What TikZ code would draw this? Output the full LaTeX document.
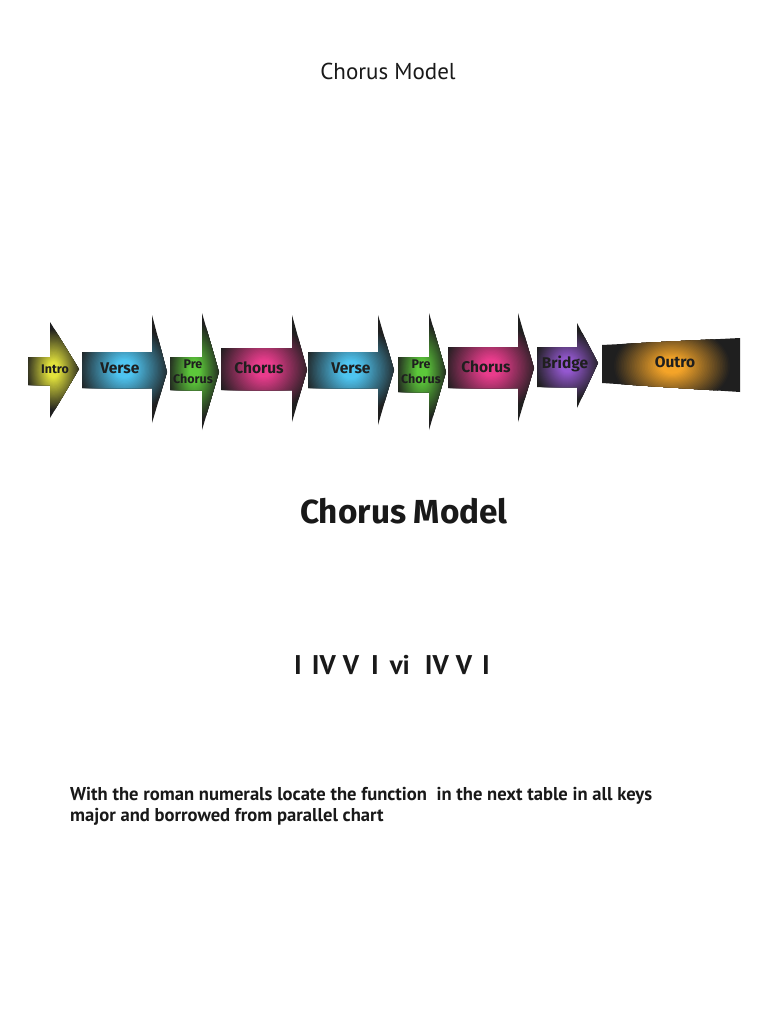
\documentclass[tikz,border=0pt]{standalone}
\usepackage{fontspec}
\setmainfont{PT Sans}
\newfontfamily\labfont{Fira Sans}
\definecolor{cintro}{HTML}{E2E23C}
\definecolor{cverse}{HTML}{4EC4F0}
\definecolor{cpre}{HTML}{5CC83A}
\definecolor{cchorus}{HTML}{E83C8C}
\definecolor{cbridge}{HTML}{9458D0}
\definecolor{coutro}{HTML}{F4A428}
\colorlet{cin}{cverse}
\colorlet{edgec}{black!88}
% manual radial glow: #1 path, #2 cx, #3 cy, #4 rx, #5 ry
\newcommand\glowfill[5]{%
  \begin{scope}
    \clip #1;
    \fill[edgec] (#2-#4*2,#3-#5*2) rectangle (#2+#4*2,#3+#5*2);
    \foreach \i in {36,...,1}{%
      \pgfmathsetmacro\ff{100*max(0,min(1,(1.02-\i/36)/0.82))}%
      \fill[cin!\ff!edgec] (#2,#3) ellipse [x radius=#4*\i/36, y radius=#5*\i/36];
    }
  \end{scope}}
\newcommand\sarrow[9]{%
  \colorlet{cin}{#9}%
  \pgfmathsetmacro\cx{(#1+#7)/2}\pgfmathsetmacro\cy{(#5+#6)/2}%
  \pgfmathsetmacro\rx{(#7-#1)/2*1.1}\pgfmathsetmacro\ry{(#6-#5)/2*0.85}%
  \glowfill{(#1,#2) -- (#4,#2) -- (#4,#5) -- (#7,#8) -- (#4,#6) -- (#4,#3) -- (#1,#3) -- cycle}{\cx}{\cy}{\rx}{\ry}}
\tikzset{
  lab/.style={font=\labfont\bfseries\fontsize{15.5}{15.5}\selectfont, text=black!88, inner sep=0pt, align=center},
  labs/.style={font=\labfont\bfseries\fontsize{12.5}{15}\selectfont, text=black!88, inner sep=0pt, align=center}
}
\begin{document}
\begin{tikzpicture}[x=1pt,y=-1pt]
\useasboundingbox (0,0) rectangle (768,1024);
\fill[white] (0,0) rectangle (768,1024);
% arrows
\sarrow{28}{357}{385}{50}{322}{418}{79}{369}{cintro}
\sarrow{82}{352}{388}{152}{315}{423}{167}{372}{cverse}
\sarrow{170}{357}{390}{202}{313}{430}{219}{372}{cpre}
\sarrow{221}{348}{390}{292}{315}{422}{307}{370}{cchorus}
\sarrow{308}{352}{388}{378}{315}{425}{394}{370}{cverse}
\sarrow{398}{357}{392}{429}{313}{430}{446}{372}{cpre}
\sarrow{448}{347}{388}{518}{313}{422}{534}{368}{cchorus}
\sarrow{537}{347}{387}{577}{323}{408}{598}{363}{cbridge}
\colorlet{cin}{coutro}
\glowfill{(602,345) -- (740,338) -- (740,392) -- (602,383) -- cycle}{672}{366}{58}{40}
% labels
\node[labs] (intro) at (55,369) {Intro};
\node[lab] (verse1) at (120,368) {Verse};
\node[labs] (pre1) at (193,372) {Pre\\Chorus};
\node[lab] (chorus1) at (259,368) {Chorus};
\node[lab] (verse2) at (351,368) {Verse};
\node[labs] (pre2) at (421,372) {Pre\\Chorus};
\node[lab] (chorus2) at (486,367) {Chorus};
\node[lab] (bridge) at (565,364) {Bridge};
\node[lab] (outro) at (675,362) {Outro};
% texts
\node[font=\fontsize{23}{26}\selectfont, text=black!90] (title) at (388,71) {Chorus Model};
\node[font=\labfont\bfseries\fontsize{33.3}{38}\selectfont, text=black!90] (title2) at (404,511) {Chorus Model};
\node[font=\bfseries\fontsize{27}{32}\selectfont, text=black!90, inner sep=0pt] (romans) at (392,665) {I\hspace{10pt}IV\hspace{7pt}V\hspace{12pt}I\hspace{11pt}vi\hspace{15pt}IV\hspace{7pt}V\hspace{10pt}I};
\node[font=\bfseries\fontsize{18.6}{21}\selectfont, text=black!90, anchor=north west, align=left, inner sep=0pt] (para) at (70,787) {With the roman numerals locate the function\ \ in the next table in all keys\\major and borrowed from parallel chart};
\end{tikzpicture}
\end{document}
